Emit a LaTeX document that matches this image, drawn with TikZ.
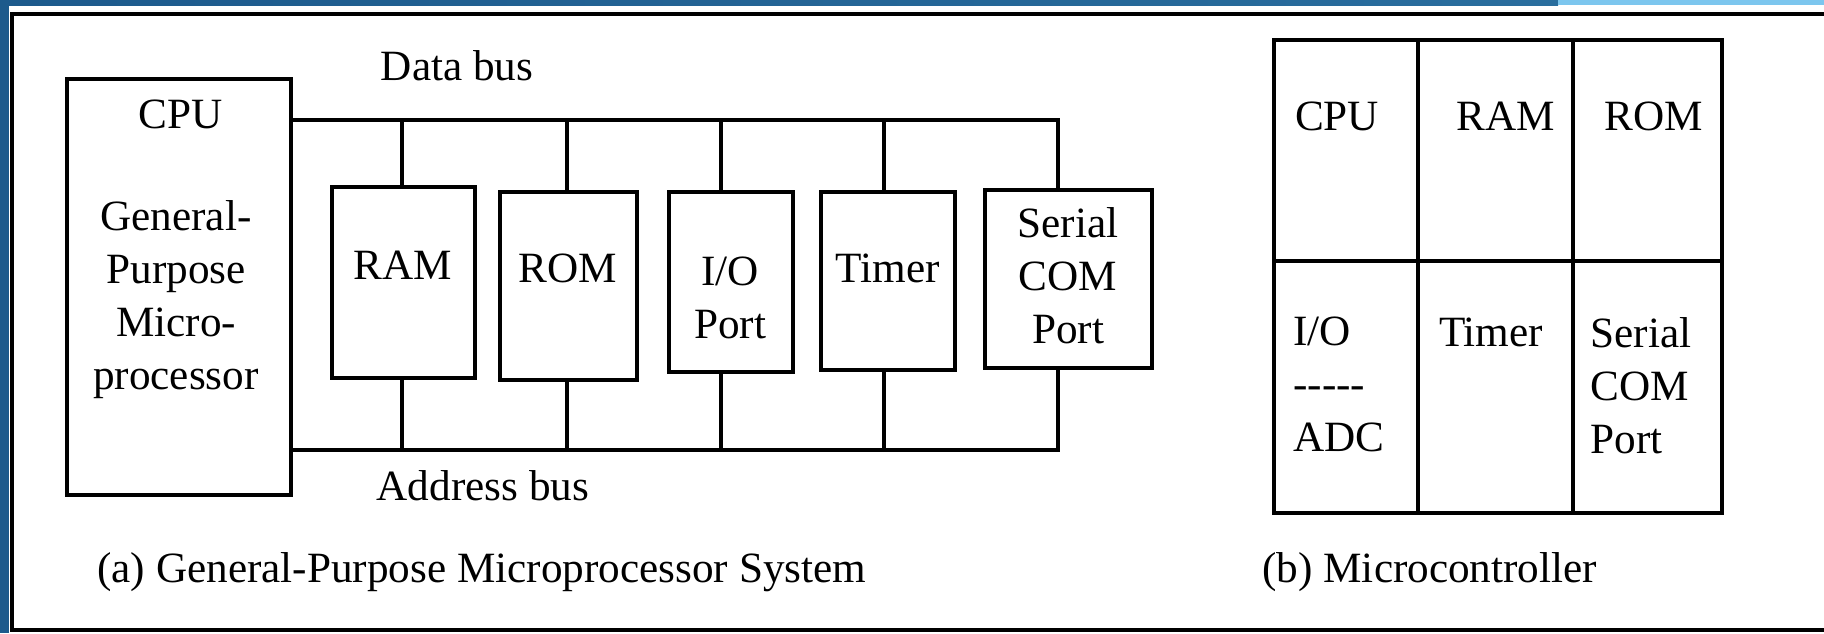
\documentclass[tikz,border=0pt]{standalone}
\usepackage{fontspec}
\setmainfont{Liberation Serif}
\definecolor{bluedark}{HTML}{1D5A8C}
\definecolor{bluemid}{HTML}{2A6E9E}
\definecolor{bluelight}{HTML}{7CC6EE}
\begin{document}
\begin{tikzpicture}[x=0.5pt,y=-0.5pt,
  txt/.style={font=\fontsize{21.6}{26.5}\selectfont, inner sep=0pt, align=center},
  blk/.style={draw, line width=2pt, inner sep=0pt},
  bus/.style={line width=1.6pt},
  cell/.style={draw, line width=1.8pt, inner sep=0pt}]
% background and frame
\useasboundingbox (0,0) rectangle (1824,633);
\fill[white] (0,0) rectangle (1824,633);
\fill[bluedark] (0,0) rectangle (9,633);
\shade[left color=bluedark, right color=bluemid] (0,0) rectangle (1558,5);
\fill[bluelight] (1558,0) rectangle (1824,5);
\draw[line width=2pt] (1824,14) -- (12,14) -- (12,630) -- (1824,630);

% (a) general-purpose microprocessor system
\node[blk, minimum width=112pt, minimum height=208pt] (cpu) at (179,287) {};
\node[txt] (cpul) at (181,114) {CPU};
\node[txt] (gpm) at (176,300) {General-\\Purpose\\Micro-\\processor};

\node[blk, minimum width=71.5pt, minimum height=95.5pt] (ram) at (403.5,282.5) {};
\node[blk, minimum width=68.5pt, minimum height=94pt] (rom) at (568.5,286) {};
\node[blk, minimum width=62pt, minimum height=90pt] (io) at (731,282) {};
\node[blk, minimum width=67pt, minimum height=89pt] (timer) at (888,281) {};
\node[blk, minimum width=83.5pt, minimum height=89pt] (serial) at (1068.5,279) {};

\node[txt] (raml) at (403,265) {RAM};
\node[txt] (roml) at (568,268) {ROM};
\node[txt] (iol) at (730,298) {I/O\\Port};
\node[txt] (timerl) at (888,268) {Timer};
\node[txt] (seriall) at (1068,276) {Serial\\COM\\Port};

\coordinate (dbR) at (1058,120);
\coordinate (abR) at (1058,450);
\draw[bus] (cpu.east |- dbR) -- (dbR) -- (dbR |- serial.north);
\draw[bus] (cpu.east |- abR) -- (abR) -- (abR |- serial.south);
\foreach \n/\xx in {ram/402, rom/567, io/721, timer/884} {
  \draw[bus] (\xx,0 |- \n.north) -- (\xx,0 |- dbR);
  \draw[bus] (\xx,0 |- \n.south) -- (\xx,0 |- abR);
}

\node[txt] (dbl) at (457,66) {Data bus};
\node[txt] (abl) at (483,486) {Address bus};
\node[txt, anchor=west] (capa) at (97,572) {(a) General-Purpose Microprocessor System};

% (b) microcontroller
\node[cell, minimum width=72pt, minimum height=110.5pt] (mcpu) at (1346,150.5) {};
\node[cell, minimum width=77.5pt, minimum height=110.5pt] (mram) at (1495.5,150.5) {};
\node[cell, minimum width=74.5pt, minimum height=110.5pt] (mrom) at (1647.5,150.5) {};
\node[cell, minimum width=72pt, minimum height=126pt] (mio) at (1346,387) {};
\node[cell, minimum width=77.5pt, minimum height=126pt] (mtimer) at (1495.5,387) {};
\node[cell, minimum width=74.5pt, minimum height=126pt] (mserial) at (1647.5,387) {};

\node[txt] (mcpul) at (1337,116) {CPU};
\node[txt] (mraml) at (1506,116) {RAM};
\node[txt] (mroml) at (1654,116) {ROM};
\node[txt, align=left, anchor=west] (miol) at (1293,384) {I/O\\{-}{-}{-}{-}{-}\\ADC};
\node[txt] (mtimerl) at (1491,332) {Timer};
\node[txt, align=left, anchor=west] (mseriall) at (1590,386) {Serial\\COM\\Port};

\node[txt, anchor=west] (capb) at (1262,572) {(b) Microcontroller};
\end{tikzpicture}
\end{document}
